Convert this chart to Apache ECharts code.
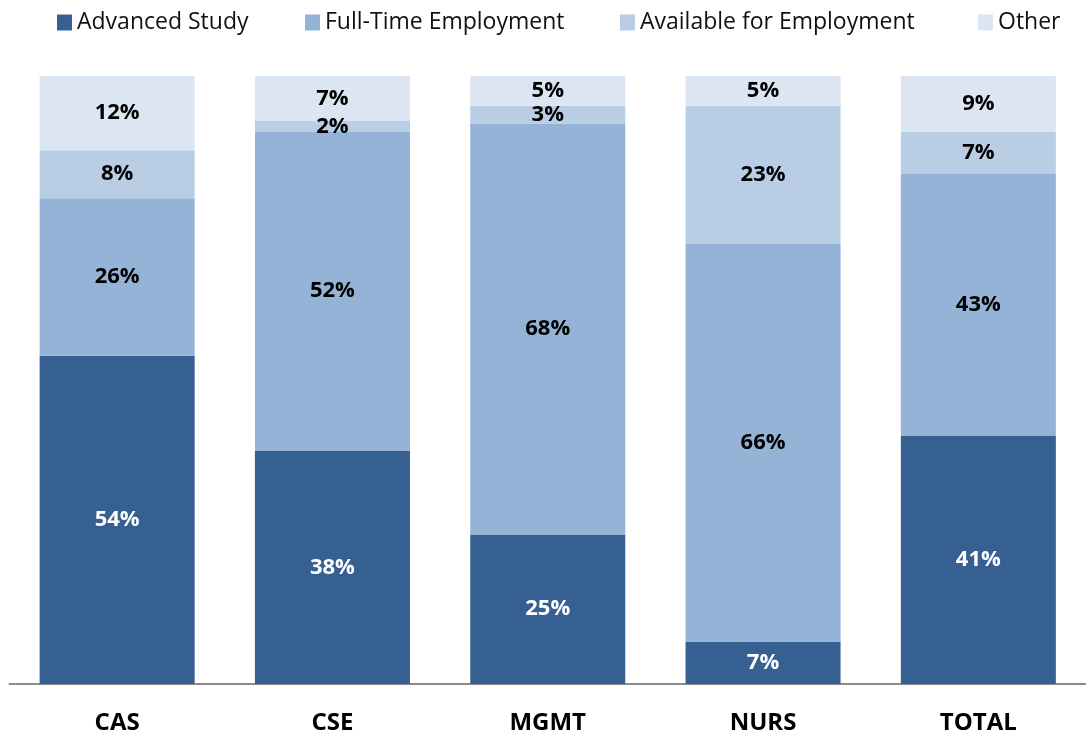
<!DOCTYPE html>
<html>
<head>
<meta charset="utf-8">
<script src="https://cdn.jsdelivr.net/npm/echarts@6/dist/echarts.min.js"></script>
<style>
  html, body { margin: 0; padding: 0; background: #fff; }
  #main { width: 1086px; height: 735px; }
</style>
</head>
<body>
<div id="main"></div>
<script>
// 数据
let categories = ['CAS', 'CSE', 'MGMT', 'NURS', 'TOTAL']
let seriesNames = ['Advanced Study', 'Full-Time Employment', 'Available for Employment', 'Other']
let advancedStudy = [54.0, 38.4, 24.6, 6.9, 40.8]
let fullTime = [25.9, 52.4, 67.6, 65.6, 43.1]
let available = [7.9, 1.8, 2.9, 22.6, 6.9]
let other = [12.2, 7.4, 4.9, 4.9, 9.2]

;(function () {
  let mychart = echarts.init(document.getElementById('main'))
  let colors = ['#376092', '#95b3d7', '#b9cde5', '#dce6f2']
  let values = [advancedStudy, fullTime, available, other]
  let legendLeft = [57, 305, 620, 978]
  let font = '"Open Sans", "Noto Sans", sans-serif'

  let legends = seriesNames.map(function (name, i) {
    return {
      data: [name],
      left: legendLeft[i],
      top: 11,
      padding: 0,
      itemWidth: 15,
      itemHeight: 16,
      itemGap: 6,
      icon: 'rect',
      selectedMode: false,
      textStyle: { fontSize: 23, color: '#111', fontFamily: font, padding: [0, 0, 0, 0] }
    }
  })

  let series = seriesNames.map(function (name, i) {
    return {
      name: name,
      type: 'bar',
      stack: 'total',
      barCategoryGap: '28%',
      itemStyle: { color: colors[i] },
      label: {
        show: true,
        position: 'inside',
        formatter: function (p) { return Math.round(p.value) + '%' },
        color: i === 0 ? '#fff' : '#000',
        fontWeight: 'bold',
        fontSize: 22,
        fontFamily: font
      },
      emphasis: { disabled: true },
      data: values[i]
    }
  })

  let option = {
    animation: false,
    color: colors,
    legend: legends,
    grid: { left: 9.5, right: -3.5, top: 76, bottom: 51, containLabel: false },
    xAxis: {
      type: 'category',
      data: categories,
      axisLine: { lineStyle: { color: '#8c8c8c', width: 2 } },
      axisTick: { show: false },
      axisLabel: { margin: 27, fontSize: 24, fontWeight: 'bold', color: '#000', fontFamily: font }
    },
    yAxis: {
      type: 'value',
      min: 0,
      max: 100,
      show: false,
      splitLine: { show: false }
    },
    series: series
  }
  mychart.setOption(option)
  window.addEventListener('resize', function () {
    mychart.resize()
  })
})();
</script>
</body>
</html>
